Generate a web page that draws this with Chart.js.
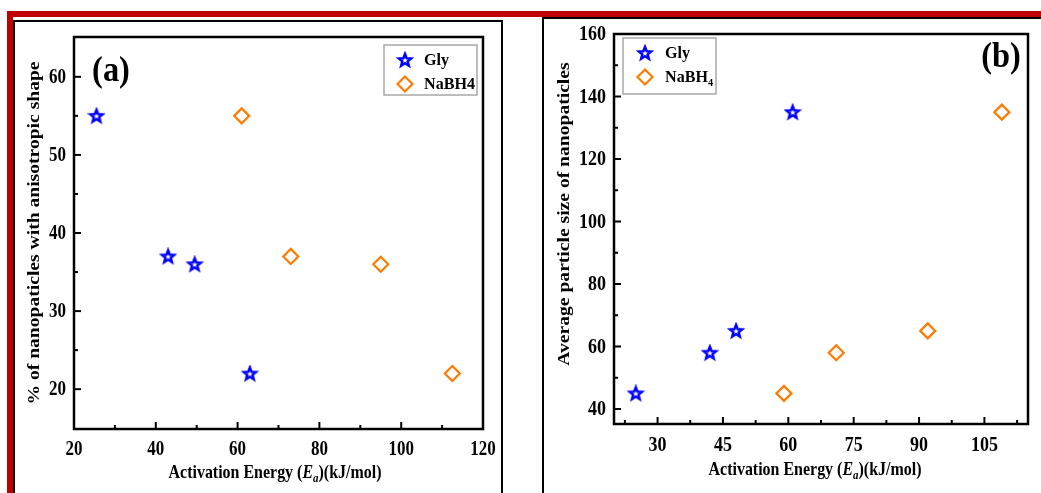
<!DOCTYPE html>
<html>
<head>
<meta charset="utf-8">
<script src="https://cdn.jsdelivr.net/npm/chart.js@4.4.1/dist/chart.umd.min.js"></script>
<style>
  html, body { margin: 0; padding: 0; background: #fff; }
  body { width: 1041px; height: 493px; position: relative; overflow: hidden; }
  canvas { position: absolute; left: 0; top: 0; }
  .bar { position: absolute; background: #c00000; }
  .frame { position: absolute; border: 2px solid #000; box-sizing: border-box; }
</style>
</head>
<body>
<div class="bar" style="left:7px; top:11px; width:1034px; height:6px"></div>
<div class="bar" style="left:7px; top:11px; width:6px; height:482px"></div>
<div class="frame" style="left:13px; top:20px; width:490px; height:490px"></div>
<div class="frame" style="left:542px; top:17px; width:520px; height:490px"></div>
<canvas id="chartA" width="1041" height="493"></canvas>
<canvas id="chartB" width="1041" height="493"></canvas>
<script>
// Panel (a): % anisotropic vs activation energy
const energyA_gly = [25.5, 43, 49.5, 63];
const shapeA_gly = [55, 37, 36, 22];
const energyA_nabh = [61, 73, 95, 112.5];
const shapeA_nabh = [55, 37, 36, 22];
const xTicksA = [20, 30, 40, 50, 60, 70, 80, 90, 100, 110, 120];
const xLabelsA = [20, 40, 60, 80, 100, 120];
const yTicksA = [20, 25, 30, 35, 40, 45, 50, 55, 60];
const yLabelsA = [20, 30, 40, 50, 60];

// Panel (b): particle size vs activation energy
const energyB_gly = [25, 42, 48, 61];
const sizeB_gly = [45, 58, 65, 135];
const energyB_nabh = [59, 71, 92, 109];
const sizeB_nabh = [45, 58, 65, 135];
const xTicksB = [22.5, 30, 37.5, 45, 52.5, 60, 67.5, 75, 82.5, 90, 97.5, 105, 112.5];
const xLabelsB = [30, 45, 60, 75, 90, 105];
const yTicksB = [40, 50, 60, 70, 80, 90, 100, 110, 120, 130, 140, 150, 160];
const yLabelsB = [40, 60, 80, 100, 120, 140, 160];

const BLUE = '#0000ff';
const ORANGE = '#ff7a00';
const SERIF = '"Liberation Serif", "Times New Roman", serif';

// hollow five-point star marker
function starImage() {
  const c = document.createElement('canvas');
  c.width = 18; c.height = 18;
  const g = c.getContext('2d');
  g.beginPath();
  for (let i = 0; i < 10; i++) {
    const r = i % 2 ? 2.8 : 6.5;
    const a = -Math.PI / 2 + i * Math.PI / 5;
    g.lineTo(9 + r * Math.cos(a), 9.5 + r * Math.sin(a));
  }
  g.closePath();
  g.fillStyle = '#fff';
  g.fill();
  g.lineWidth = 2.5;
  g.lineJoin = 'miter';
  g.strokeStyle = BLUE;
  g.stroke();
  return c;
}
const STAR = starImage();

// text made of runs (for italics / subscripts), squeezed horizontally like the source
function richText(ctx, parts, x, y, sx, align, rot) {
  ctx.save();
  ctx.translate(x, y);
  ctx.scale(sx, 1);
  if (rot) ctx.rotate(rot);
  let w = 0;
  parts.forEach((p) => { ctx.font = p.f; w += ctx.measureText(p.t).width; });
  let cx = align === 'center' ? -w / 2 : align === 'right' ? -w : 0;
  ctx.textBaseline = 'middle';
  ctx.textAlign = 'left';
  ctx.fillStyle = '#000';
  parts.forEach((p) => {
    ctx.font = p.f;
    ctx.fillText(p.t, cx, p.dy || 0);
    cx += ctx.measureText(p.t).width;
  });
  ctx.restore();
}

const bold = (s) => `bold ${s}px ${SERIF}`;
const boldIt = (s) => `italic bold ${s}px ${SERIF}`;

function decor(o) {
  return {
    id: 'decor' + o.tag,
    afterDraw(chart) {
      const ctx = chart.ctx;
      const { left, right, top, bottom } = chart.chartArea;
      const xs = chart.scales.x, ys = chart.scales.y;
      ctx.save();
      ctx.strokeStyle = '#000';
      ctx.lineWidth = 2.5;
      ctx.strokeRect(left, top, right - left, bottom - top);
      ctx.lineWidth = 2;
      o.xTicks.forEach((v) => {
        const px = xs.getPixelForValue(v);
        const len = o.xLabels.includes(v) ? 7 : 4;
        ctx.beginPath(); ctx.moveTo(px, bottom); ctx.lineTo(px, bottom - len); ctx.stroke();
      });
      o.yTicks.forEach((v) => {
        const py = ys.getPixelForValue(v);
        const len = o.yLabels.includes(v) ? 7 : 4;
        ctx.beginPath(); ctx.moveTo(left, py); ctx.lineTo(left + len, py); ctx.stroke();
      });
      o.xLabels.forEach((v) => {
        richText(ctx, [{ t: String(v), f: bold(20) }], xs.getPixelForValue(v), o.xLabelY, o.tickSx, 'center');
      });
      o.yLabels.forEach((v) => {
        richText(ctx, [{ t: String(v), f: bold(20) }], left - 8, ys.getPixelForValue(v) + 1, o.tickSx, 'right');
      });
      // axis titles
      richText(ctx, [
        { t: 'Activation Energy (', f: bold(19) },
        { t: 'E', f: boldIt(19) },
        { t: 'a', f: boldIt(13), dy: 6 },
        { t: ')(kJ/mol)', f: bold(19) },
      ], o.xTitle[0], o.xTitle[1], 0.84, 'center');
      richText(ctx, [{ t: o.yTitleText, f: bold(19.6) }], o.yTitle[0], o.yTitle[1], 0.84, 'center', -Math.PI / 2);
      // panel tag
      richText(ctx, [{ t: o.tag, f: bold(36) }], o.tagPos[0], o.tagPos[1], 0.9, 'center');
      // legend
      const L = o.legend;
      ctx.strokeStyle = '#9a9a9a';
      ctx.lineWidth = 1.3;
      ctx.strokeRect(L.box[0], L.box[1], L.box[2], L.box[3]);
      chart.data.datasets.forEach((ds, i) => {
        const y = L.rows[i];
        ctx.fillStyle = 'rgba(0,0,0,0)';
        ctx.strokeStyle = ds.borderColor;
        ctx.lineWidth = ds.borderWidth;
        Chart.helpers.drawPoint(ctx, { pointStyle: ds.pointStyle, radius: ds.pointRadius, borderWidth: ds.borderWidth, rotation: 0 }, L.sym, y);
        richText(ctx, L.labels[i], L.text, y, 0.92, 'left');
      });
      ctx.restore();
    },
  };
}

function makeChart(id, gly, nabh, xr, yr, pad, o) {
  return new Chart(document.getElementById(id), {
    type: 'scatter',
    data: {
      datasets: [
        { label: 'Gly', data: gly, pointStyle: STAR, pointRadius: 7, borderColor: BLUE, borderWidth: 2, backgroundColor: BLUE },
        { label: 'NaBH4', data: nabh, pointStyle: 'rectRot', pointRadius: 7.5, borderColor: ORANGE, borderWidth: 2.2, backgroundColor: 'rgba(0,0,0,0)' },
      ],
    },
    options: {
      responsive: false,
      animation: false,
      devicePixelRatio: 1,
      layout: { padding: pad },
      plugins: { legend: { display: false }, tooltip: { enabled: false } },
      scales: {
        x: { type: 'linear', display: false, min: xr[0], max: xr[1] },
        y: { type: 'linear', display: false, min: yr[0], max: yr[1] },
      },
    },
    plugins: [decor(o)],
  });
}

const zip = (xs, ys) => xs.map((x, i) => ({ x, y: ys[i] }));

makeChart('chartA', zip(energyA_gly, shapeA_gly), zip(energyA_nabh, shapeA_nabh),
  [20, 120], [14.9, 65.1], { left: 74, top: 37, right: 558, bottom: 64 }, {
    tag: '(a)', tagPos: [111, 72],
    xTicks: xTicksA, xLabels: xLabelsA, yTicks: yTicksA, yLabels: yLabelsA,
    xLabelY: 450, tickSx: 0.85,
    xTitle: [275, 473], yTitle: [35, 233],
    yTitleText: '% of nanopaticles with anisotropic shape',
    legend: {
      box: [384, 45, 93, 50], rows: [60, 84], sym: 405, text: 424,
      labels: [[{ t: 'Gly', f: bold(17.5) }], [{ t: 'NaBH4', f: bold(17.5) }]],
    },
  });

makeChart('chartB', zip(energyB_gly, sizeB_gly), zip(energyB_nabh, sizeB_nabh),
  [20, 115], [35.2, 160], { left: 614, top: 34, right: 13, bottom: 69 }, {
    tag: '(b)', tagPos: [1001, 58],
    xTicks: xTicksB, xLabels: xLabelsB, yTicks: yTicksB, yLabels: yLabelsB,
    xLabelY: 446, tickSx: 0.9,
    xTitle: [815, 470], yTitle: [565, 214],
    yTitleText: 'Average particle size of nanopaticles',
    legend: {
      box: [623, 38, 93, 56], rows: [53, 77], sym: 645, text: 665,
      labels: [[{ t: 'Gly', f: bold(17.5) }], [{ t: 'NaBH', f: bold(17.5) }, { t: '4', f: bold(11), dy: 6 }]],
    },
  });
</script>
</body>
</html>
